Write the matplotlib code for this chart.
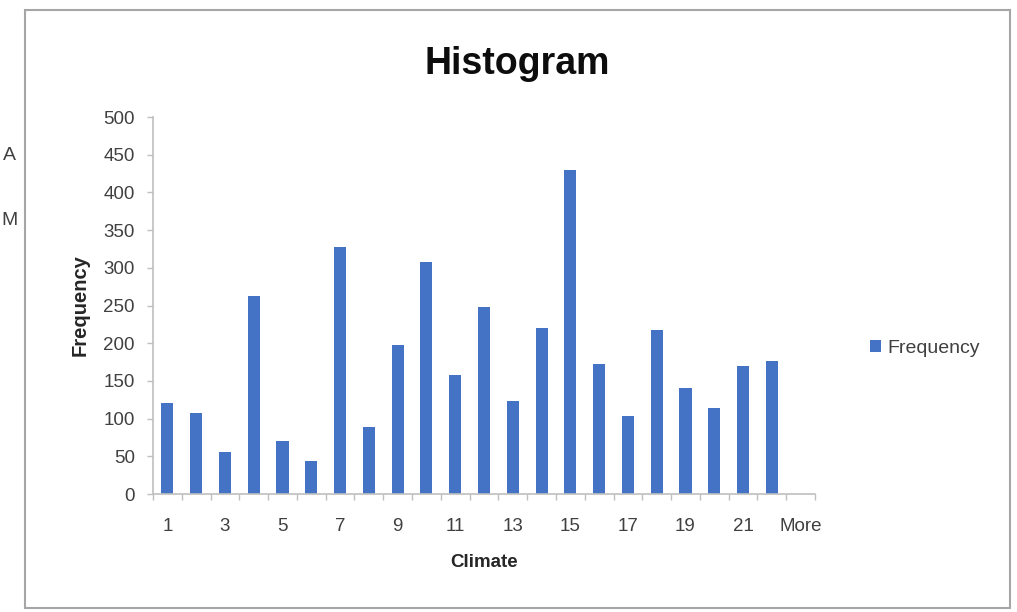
import matplotlib
matplotlib.use("Agg")
import matplotlib.pyplot as plt
from matplotlib.patches import Rectangle
import numpy as np

# bin counts from the climate histogram
bins = [str(i) for i in range(1, 23)] + ["More"]
frequency = [121, 108, 56, 262, 70, 44, 328, 89, 197, 308, 158, 248,
             124, 220, 430, 172, 104, 218, 141, 114, 170, 176, 0]
y_ticks = [0, 50, 100, 150, 200, 250, 300, 350, 400, 450, 500]

plt.rcParams['font.family'] = ["Liberation Sans Narrow", "Liberation Sans", "DejaVu Sans"]

fig = plt.figure(figsize=(10.17, 6.12), dpi=100)
ax = fig.add_axes([0.1504, 0.1928, 0.651, 0.616])

x = np.arange(len(bins))
ax.bar(x, frequency, width=0.42, color="#4472C4", label="Frequency", zorder=2)

ax.set_xlim(-0.5, len(bins) - 0.5)
ax.set_ylim(0, 500)
ax.set_yticks(y_ticks)
ax.set_yticklabels([str(v) for v in y_ticks])

# label every other bin, ticks sit between bins
ax.set_xticks(x[::2])
ax.set_xticklabels(bins[::2])
ax.set_xticks(np.arange(-0.5, len(bins)), minor=True)
ax.tick_params(axis="x", which="major", length=0, pad=17, labelsize=13.5, labelcolor="#404040")
ax.tick_params(axis="x", which="minor", length=4, color="#BFBFBF", width=1)
ax.tick_params(axis="y", length=4, color="#BFBFBF", width=1, labelsize=13.5,
               labelcolor="#404040", pad=9)

for s in ["top", "right"]:
    ax.spines[s].set_visible(False)
for s in ["left", "bottom"]:
    ax.spines[s].set_color("#BFBFBF")
    ax.spines[s].set_linewidth(1.2)

ax.set_xlabel("Climate", fontsize=13.5, fontweight="bold", color="#262626", labelpad=14)
ax.set_ylabel("Frequency", fontsize=14.5, fontweight="bold", color="#262626", labelpad=10)

fig.text(0.509, 0.895, "Histogram", ha="center", va="center", fontsize=27,
         fontweight="bold", color="#0D0D0D")

leg = fig.legend(loc="center left", bbox_to_anchor=(0.838, 0.431), frameon=False,
                 fontsize=14, handlelength=0.6, handleheight=0.6, handletextpad=0.3,
                 labelcolor="#404040")

# chart area border
fig.patches.append(Rectangle((25 / 1017, 1 - 608 / 612), 985 / 1017, 598 / 612,
                             transform=fig.transFigure, fill=False,
                             edgecolor="#A6A6A6", linewidth=1.5))

# bits of surrounding sheet text on the left edge
fig.text(0.003, 1 - 155 / 612, "A", fontsize=14, color="#404040", va="center",
         family=["Liberation Sans", "DejaVu Sans"])
fig.text(0.001, 1 - 220 / 612, "M", fontsize=14, color="#404040", va="center",
         family=["Liberation Sans", "DejaVu Sans"])

fig.savefig("out.png", dpi=100)
